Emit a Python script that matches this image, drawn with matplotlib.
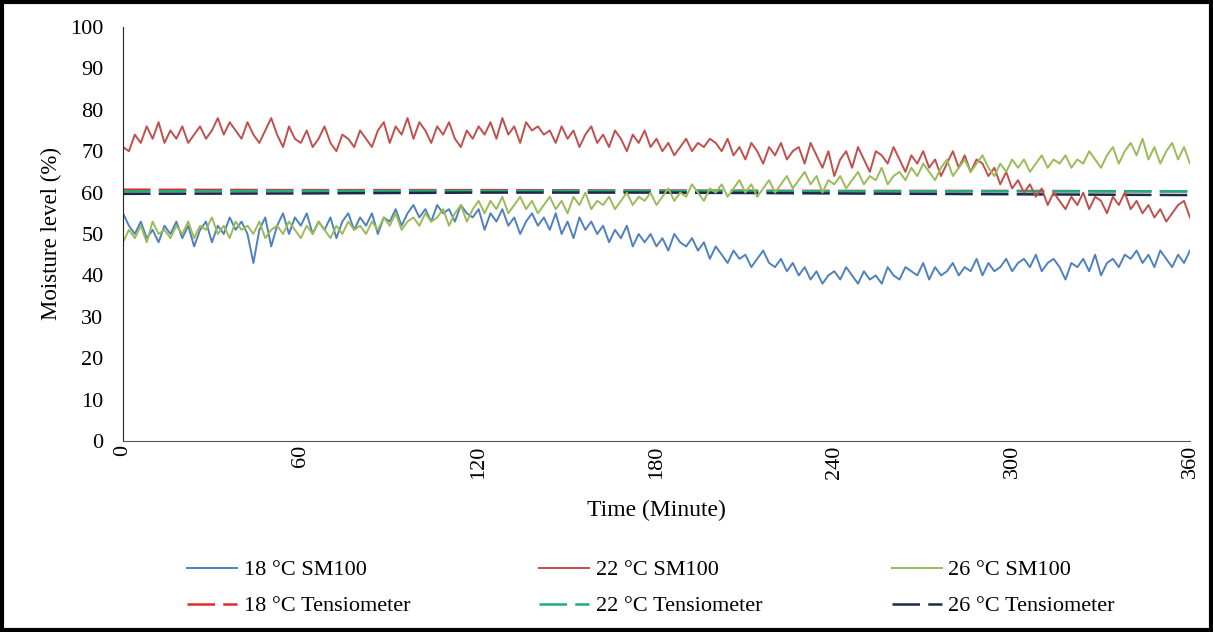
import numpy as np
import matplotlib.pyplot as plt

plt.rcParams['font.family'] = ['Liberation Serif', 'DejaVu Serif']

# --- data (one reading every 2 minutes) ---
minutes = list(range(0, 361, 2))

sm100_18 = [
    55, 52, 50, 53, 49, 51, 48, 52, 50, 53, 49,
    52, 47, 51, 53, 48, 52, 50, 54, 51, 53,
    50, 43, 51, 54, 47, 52, 55, 50, 54, 52,
    55, 50, 53, 51, 54, 49, 53, 55, 51, 54,
    52, 55, 50, 54, 53, 56, 52, 55, 57, 54,
    56, 53, 57, 55, 56, 53, 57, 55, 54, 56,
    51, 55, 53, 56, 52, 54, 50, 53, 55, 52,
    54, 51, 55, 50, 53, 49, 54, 51, 53, 50,
    52, 48, 51, 49, 52, 47, 50, 48, 50, 47,
    49, 46, 50, 48, 47, 49, 46, 48, 44, 47,
    45, 43, 46, 44, 45, 42, 44, 46, 43, 42,
    44, 41, 43, 40, 42, 39, 41, 38, 40, 41,
    39, 42, 40, 38, 41, 39, 40, 38, 42, 40,
    39, 42, 41, 40, 43, 39, 42, 40, 41, 43,
    40, 42, 41, 44, 40, 43, 41, 42, 44, 41,
    43, 44, 42, 45, 41, 43, 44, 42, 39, 43,
    42, 44, 41, 45, 40, 43, 44, 42, 45, 44,
    46, 43, 45, 42, 46, 44, 42, 45, 43, 46,
]

sm100_22 = [
    71, 70, 74, 72, 76, 73, 77, 72, 75, 73, 76,
    72, 74, 76, 73, 75, 78, 74, 77, 75, 73,
    77, 74, 72, 75, 78, 74, 71, 76, 73, 72,
    75, 71, 73, 76, 72, 70, 74, 73, 71, 75,
    73, 71, 75, 77, 72, 76, 74, 78, 73, 77,
    75, 72, 76, 74, 77, 73, 71, 75, 73, 76,
    74, 77, 73, 78, 74, 76, 72, 77, 75, 76,
    74, 75, 72, 76, 73, 75, 71, 74, 76, 72,
    74, 71, 75, 73, 70, 74, 72, 75, 71, 73,
    70, 72, 69, 71, 73, 70, 72, 71, 73, 72,
    70, 73, 69, 71, 68, 72, 70, 67, 71, 69,
    72, 68, 70, 71, 67, 72, 69, 66, 70, 64,
    68, 70, 66, 71, 68, 65, 70, 69, 67, 71,
    68, 65, 69, 67, 70, 66, 68, 64, 67, 70,
    66, 69, 65, 68, 67, 64, 66, 62, 65, 61,
    63, 60, 62, 59, 61, 57, 60, 58, 56, 59,
    57, 60, 56, 59, 58, 55, 59, 57, 60, 56,
    58, 55, 57, 54, 56, 53, 55, 57, 58, 54,
]

sm100_26 = [
    48, 51, 49, 52, 48, 53, 50, 51, 49, 52, 50,
    53, 49, 52, 51, 54, 50, 52, 49, 53, 51,
    52, 50, 53, 49, 51, 52, 50, 53, 51, 49,
    52, 50, 53, 51, 49, 52, 50, 53, 51, 52,
    50, 53, 51, 54, 52, 55, 51, 53, 54, 52,
    55, 53, 54, 56, 52, 55, 57, 53, 56, 58,
    55, 58, 56, 59, 55, 57, 59, 56, 58, 55,
    57, 59, 56, 58, 55, 59, 57, 60, 56, 58,
    57, 59, 56, 58, 60, 57, 59, 58, 60, 57,
    59, 61, 58, 60, 59, 62, 60, 58, 61, 60,
    62, 59, 61, 63, 60, 62, 59, 61, 63, 60,
    62, 64, 61, 63, 65, 62, 64, 60, 63, 62,
    64, 61, 63, 65, 62, 64, 63, 66, 62, 64,
    65, 63, 66, 64, 67, 65, 63, 66, 68, 64,
    66, 68, 65, 67, 69, 66, 64, 67, 65, 68,
    66, 68, 65, 67, 69, 66, 68, 67, 69, 66,
    68, 67, 70, 68, 66, 69, 71, 67, 70, 72,
    69, 73, 68, 71, 67, 70, 72, 68, 71, 67,
]

tens_minutes = [0, 60, 120, 180, 240, 300, 360]
tens_18 = [60.7, 60.6, 60.6, 60.5, 60.4, 60.4, 60.3]
tens_22 = [60.3, 60.4, 60.4, 60.4, 60.3, 60.3, 60.3]
tens_26 = [59.7, 59.8, 60.0, 60.0, 59.8, 59.6, 59.4]

xticks = [0, 60, 120, 180, 240, 300, 360]
yticks = list(range(0, 101, 10))

# --- figure ---
fig = plt.figure(figsize=(12.13, 6.32), dpi=100)
ax = fig.add_axes([0.1014, 0.3022, 0.8796, 0.6551])

dash = (11, 3.3)
l_t18, = ax.plot(tens_minutes, tens_18, color='#E8262B', lw=1.8, dashes=dash)
l_t22, = ax.plot(tens_minutes, tens_22, color='#1DAF80', lw=1.8, dashes=dash)
l_t26, = ax.plot(tens_minutes, tens_26, color='#1B2A4A', lw=1.8, dashes=dash)
l_18, = ax.plot(minutes, sm100_18, color='#4F81BD', lw=1.4)
l_22, = ax.plot(minutes, sm100_22, color='#C0504D', lw=1.4)
l_26, = ax.plot(minutes, sm100_26, color='#9BBB59', lw=1.4)

ax.set_xlim(0, 360)
ax.set_ylim(0, 100)
ax.set_xticks(xticks)
ax.set_xticklabels([str(t) for t in xticks], rotation=90)
ax.set_yticks(yticks)
ax.tick_params(axis='both', length=0, labelsize=16)
ax.tick_params(axis='y', pad=14)
ax.tick_params(axis='x', pad=3)
for s in ['top', 'right']:
    ax.spines[s].set_visible(False)
ax.spines['left'].set_color('#222222')
ax.spines['bottom'].set_color('#555555')

ax.set_xlabel('Time (Minute)', fontsize=17, labelpad=15)
ax.set_ylabel('Moisture level (%)', fontsize=16.5, labelpad=6)

handles = [l_18, l_t18, l_22, l_t22, l_26, l_t26]
labels = ['18 °C SM100', '18 °C Tensiometer', '22 °C SM100',
          '22 °C Tensiometer', '26 °C SM100', '26 °C Tensiometer']
fig.legend(handles, labels, ncol=3, loc='upper left',
           bbox_to_anchor=(0.138, 0.146), frameon=False, fontsize=16,
           handlelength=2.25, handletextpad=0.3, columnspacing=5.8,
           labelspacing=0.7)

# black frame round the whole picture
fig.patches.append(plt.Rectangle((0.002, 0.003), 0.996, 0.994,
                                 transform=fig.transFigure, fill=False,
                                 edgecolor='black', lw=3))

fig.savefig('out.png', dpi=100)
